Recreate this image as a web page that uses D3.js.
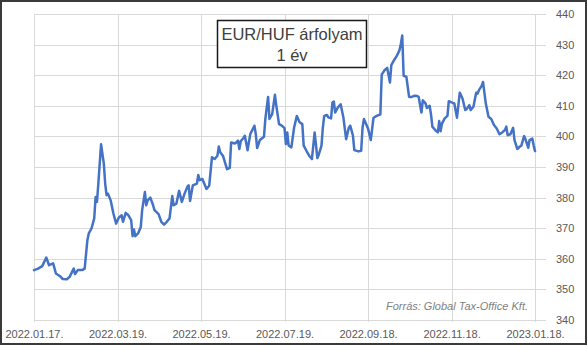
<!DOCTYPE html>
<html lang="hu">
<head>
<meta charset="UTF-8">
<title>EUR/HUF árfolyam</title>
<script src="https://d3js.org/d3.v7.min.js"></script>
<style>
  body { margin: 0; background: #fff; }
  svg { display: block; font-family: "Liberation Sans", Arial, sans-serif; }
  .grid line { stroke: #d9d9d9; stroke-width: 1; }
  .tick-label { fill: #595959; font-size: 11px; }
</style>
</head>
<body>
<svg width="588" height="346"></svg>
<script>
// days counted from the first date
const startDate = "2022-01-17";
const dayOffsets = [
  0, 3, 6, 9, 11, 14, 16, 19, 21, 24, 26, 29, 30, 32, 35, 36, 37, 39, 40, 42,
  44, 45, 46, 47, 48, 49, 51, 52, 53, 54, 56, 58, 60, 62, 64, 65, 67, 69, 71, 72,
  73, 74, 76, 78, 79, 81, 82, 83, 85, 87, 88, 91, 93, 95, 97, 99, 101, 102, 104, 106,
  108, 110, 112, 113, 114, 116, 119, 120, 121, 123, 126, 128, 130, 132, 134, 135, 136, 138, 141, 143,
  144, 147, 149, 150, 151, 153, 154, 156, 158, 161, 162, 163, 165, 168, 169, 171, 172, 174, 176, 177,
  179, 181, 183, 184, 185, 186, 188, 190, 192, 194, 196, 197, 199, 201, 203, 205, 207, 208, 210, 211,
  212, 214, 215, 217, 218, 219, 220, 222, 224, 226, 228, 230, 231, 233, 234, 237, 239, 240, 241, 244,
  246, 248, 250, 253, 254, 256, 258, 260, 261, 263, 265, 267, 268, 269, 270, 272, 274, 276, 278, 280,
  281, 283, 284, 286, 287, 289, 290, 291, 293, 295, 296, 297, 298, 300, 302, 303, 305, 307, 309, 311,
  313, 315, 316, 318, 319, 321, 323, 324, 325, 327, 328, 330, 332, 334, 336, 338, 340, 342, 344, 345,
  346, 348, 350, 351, 353, 355, 356, 358, 359, 361, 362, 364, 365, 366
];
const rates = [
  356.3, 356.8, 357.6, 360.4, 357.9, 358.5, 355.2, 354.3, 353.4, 353.3, 354.1, 356.8, 355.0, 356.3, 356.3, 356.5, 356.8, 366.1, 368.3, 369.9,
  373.2, 380.2, 378.6, 384.6, 391.1, 397.4, 391.1, 384.6, 380.8, 381.3, 379.1, 374.8, 371.5, 373.5, 374.2, 372.1, 375.0, 374.2, 372.6, 367.4,
  369.6, 367.4, 368.3, 370.4, 375.9, 381.8, 377.5, 379.1, 380.0, 377.5, 375.9, 374.6, 372.1, 371.2, 372.1, 373.2, 380.5, 377.5, 378.0, 382.2,
  378.6, 381.3, 383.5, 384.0, 378.9, 384.0, 384.6, 387.4, 385.7, 386.1, 382.8, 383.9, 393.2, 392.6, 393.7, 396.7, 394.8, 393.7, 389.3, 389.7,
  398.0, 397.7, 398.6, 395.9, 398.4, 399.5, 400.2, 395.5, 400.8, 403.5, 400.8, 396.2, 398.8, 399.9, 405.7, 412.9, 405.7, 407.3, 413.6, 410.0,
  404.0, 403.5, 402.7, 397.5, 401.3, 397.0, 396.4, 402.9, 406.7, 404.6, 404.0, 397.0, 395.3, 393.7, 392.6, 401.3, 392.9, 394.0, 397.0, 402.9,
  406.7, 407.0, 406.2, 405.9, 411.1, 411.4, 407.8, 409.5, 410.5, 406.2, 399.1, 402.9, 403.5, 400.2, 395.5, 395.1, 395.3, 402.9, 405.7, 402.6,
  398.8, 406.1, 406.6, 407.2, 420.2, 421.6, 422.4, 417.6, 423.3, 424.9, 426.3, 428.2, 430.3, 433.0, 419.8, 419.5, 412.9, 412.9, 413.3, 413.2,
  412.9, 407.8, 411.8, 410.8, 409.3, 410.0, 407.2, 403.2, 402.1, 401.3, 405.0, 401.7, 404.2, 405.9, 406.7, 411.5, 411.1, 410.8, 406.1, 414.3,
  412.4, 408.6, 408.9, 410.2, 408.6, 409.7, 414.3, 414.0, 415.1, 416.5, 417.8, 410.8, 406.4, 405.7, 403.7, 402.6, 400.7, 401.3, 402.1, 403.2,
  400.4, 400.7, 402.8, 398.8, 395.9, 396.7, 397.0, 400.1, 399.1, 396.3, 398.8, 399.3, 397.0, 395.2
];
const xTickLabels = ["2022.01.17.", "2022.03.19.", "2022.05.19.", "2022.07.19.", "2022.09.18.", "2022.11.18.", "2023.01.18."];
const yTicks = [340, 350, 360, 370, 380, 390, 400, 410, 420, 430, 440];
const titleLines = ["EUR/HUF árfolyam", "1 év"];
const sourceText = "Forrás: Global Tax-Office Kft.";

const parse = d3.timeParse("%Y.%m.%d.");
const start = d3.timeParse("%Y-%m-%d")(startDate);
const data = dayOffsets.map((d, i) => ({ date: d3.timeDay.offset(start, d), value: rates[i] }));

const svg = d3.select("svg");
const width = +svg.attr("width");
const height = +svg.attr("height");

const plot = { left: 34, right: 546, top: 14, bottom: 320 };

const x = d3.scaleTime()
  .domain([start, d3.timeDay.offset(start, 374)])
  .range([plot.left, plot.right]);
const y = d3.scaleLinear()
  .domain([340, 440])
  .range([plot.bottom, plot.top]);

// outer frame
svg.append("rect")
  .attr("x", 1).attr("y", 1)
  .attr("width", width - 3).attr("height", height - 3)
  .attr("fill", "#fff")
  .attr("stroke", "#3a3a3a")
  .attr("stroke-width", 2);

const grid = svg.append("g").attr("class", "grid");
grid.selectAll("line.h")
  .data(yTicks)
  .join("line")
  .attr("class", "h")
  .attr("x1", plot.left).attr("x2", plot.right)
  .attr("y1", d => Math.round(y(d)) + 0.5)
  .attr("y2", d => Math.round(y(d)) + 0.5);

const xTickDates = xTickLabels.map(parse);
grid.selectAll("line.v")
  .data(xTickDates)
  .join("line")
  .attr("class", "v")
  .attr("x1", d => Math.round(x(d)) + 0.5)
  .attr("x2", d => Math.round(x(d)) + 0.5)
  .attr("y1", plot.top).attr("y2", plot.bottom + 2);

// right-hand value axis
const yAxis = d3.axisRight(y).tickValues(yTicks).tickSize(0).tickPadding(10);
svg.append("g")
  .attr("transform", `translate(${plot.right},0)`)
  .call(yAxis)
  .call(g => g.select(".domain").remove())
  .call(g => g.selectAll("text").attr("class", "tick-label").attr("fill", "#595959"));

// date axis
const xAxis = d3.axisBottom(x).tickValues(xTickDates)
  .tickFormat((d, i) => xTickLabels[i]).tickSize(0).tickPadding(10);
svg.append("g")
  .attr("transform", `translate(0,${plot.bottom})`)
  .call(xAxis)
  .call(g => g.select(".domain").remove())
  .call(g => g.selectAll("text").attr("class", "tick-label").attr("fill", "#595959"));

// series
const line = d3.line()
  .x(d => x(d.date))
  .y(d => y(d.value));
svg.append("path")
  .datum(data)
  .attr("fill", "none")
  .attr("stroke", "#4472c4")
  .attr("stroke-width", 2.5)
  .attr("stroke-linejoin", "round")
  .attr("stroke-linecap", "round")
  .attr("d", line);

// title box
const tb = svg.append("g");
tb.append("rect")
  .attr("x", 217.5).attr("y", 20.5)
  .attr("width", 149).attr("height", 47)
  .attr("fill", "#fff")
  .attr("stroke", "#1a1a1a")
  .attr("stroke-width", 1.5);
tb.selectAll("text")
  .data(titleLines)
  .join("text")
  .attr("x", 292)
  .attr("y", (d, i) => 40 + i * 21)
  .attr("text-anchor", "middle")
  .attr("fill", "#404040")
  .attr("font-size", "16.5px")
  .text(d => d);

// source note
svg.append("text")
  .attr("x", 528).attr("y", 310)
  .attr("text-anchor", "end")
  .attr("font-size", "11px")
  .attr("font-style", "italic")
  .attr("fill", "#7f7f7f")
  .text(sourceText);
</script>
</body>
</html>
